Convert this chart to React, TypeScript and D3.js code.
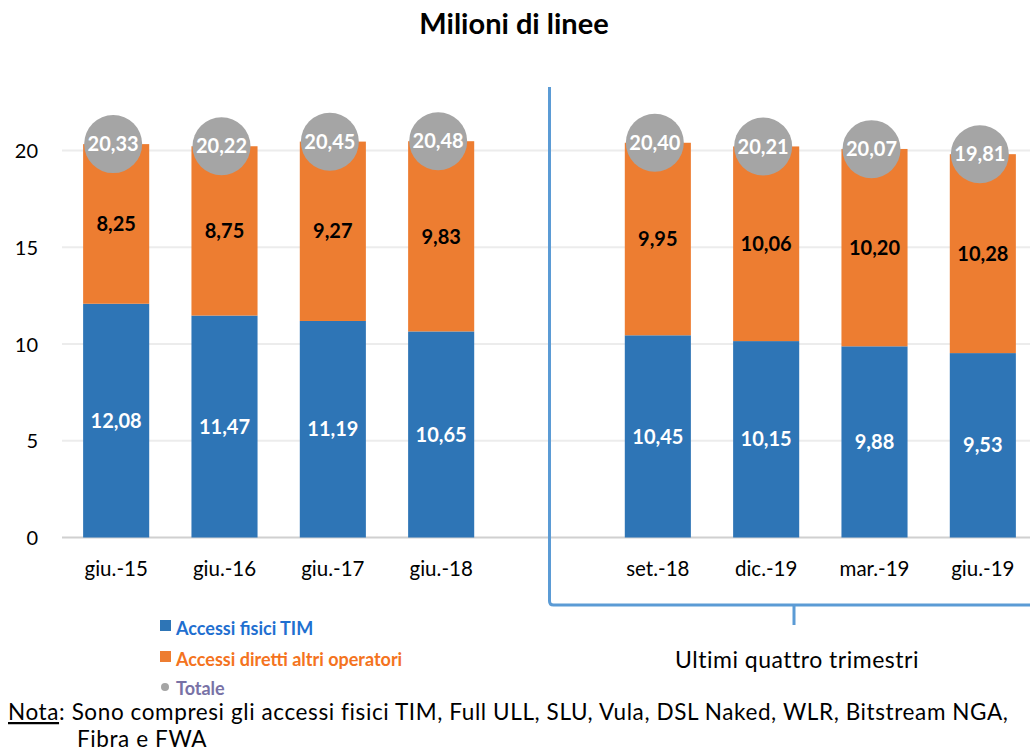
import React, { useRef, useEffect } from "react";
import * as d3 from "d3";

const categories = ["giu.-15", "giu.-16", "giu.-17", "giu.-18", "set.-18", "dic.-19", "mar.-19", "giu.-19"];
const timValues = [12.08, 11.47, 11.19, 10.65, 10.45, 10.15, 9.88, 9.53];
const altriValues = [8.25, 8.75, 9.27, 9.83, 9.95, 10.06, 10.2, 10.28];
const totalValues = [20.33, 20.22, 20.45, 20.48, 20.4, 20.21, 20.07, 19.81];
const yTicks = [0, 5, 10, 15, 20];

const FONT = "Lato, 'Open Sans', sans-serif";
const BLUE = "#2e75b6";
const ORANGE = "#ed7d31";
const GREY = "#a5a5a5";

const fmt = (v: number) => v.toFixed(2).replace(".", ",");

const App = () => {
  const svgRef = useRef<SVGSVGElement>(null);

  useEffect(() => {
    const width = 1030;
    const height = 752;
    const svg = d3.select(svgRef.current).attr("width", width).attr("height", height);
    svg.selectAll("*").remove();

    // empty slot between the yearly bars and the quarterly ones
    const slots = [...categories.slice(0, 4), "__gap", ...categories.slice(4)];
    const x = d3.scaleBand().domain(slots).range([62, 1037]).paddingInner(0.39).paddingOuter(0.195);
    const y = d3.scaleLinear().domain([0, 20]).range([537.5, 150.5]);

    svg.append("text")
      .attr("x", 514).attr("y", 34)
      .attr("text-anchor", "middle")
      .style("font-family", FONT).style("font-weight", "700").style("font-size", "29px")
      .text("Milioni di linee");

    // grid
    svg.append("g")
      .selectAll("line")
      .data(yTicks.filter((t) => t > 0))
      .enter()
      .append("line")
      .attr("x1", 62).attr("x2", width)
      .attr("y1", (d) => y(d)).attr("y2", (d) => y(d))
      .attr("stroke", "#ececec").attr("stroke-width", 2);

    svg.append("line")
      .attr("x1", 62).attr("x2", width)
      .attr("y1", y(0)).attr("y2", y(0))
      .attr("stroke", "#d0d0d0").attr("stroke-width", 2);

    const yAxis = d3.axisLeft(y).tickValues(yTicks).tickSize(0).tickPadding(0);
    const ya = svg.append("g").attr("transform", "translate(38,0)").call(yAxis);
    ya.select(".domain").remove();
    ya.selectAll("text")
      .attr("fill", "#000").attr("dy", "0.35em")
      .style("font-family", FONT).style("font-size", "20px");

    const xAxis = d3.axisBottom(x).tickSize(0).tickFormat((d) => (d === "__gap" ? "" : d));
    const xa = svg.append("g").attr("transform", `translate(0, ${y(0)})`).call(xAxis);
    xa.select(".domain").remove();
    xa.selectAll("text")
      .attr("fill", "#000").attr("y", 38).attr("dy", 0)
      .style("font-family", FONT).style("font-size", "20.5px");

    const rows = categories.map((c, i) => ({ c, tim: timValues[i], altri: altriValues[i], tot: totalValues[i] }));
    const stacked = d3.stack<any>().keys(["tim", "altri"])(rows);
    const colors = [BLUE, ORANGE];

    const groups = svg.selectAll(".bars")
      .data(stacked)
      .enter()
      .append("g")
      .attr("class", "bars")
      .style("fill", (d, i) => colors[i]);

    groups.selectAll("rect")
      .data((d) => d)
      .enter()
      .append("rect")
      .attr("x", (d: any) => x(d.data.c)!)
      .attr("y", (d) => y(d[1]))
      .attr("height", (d) => y(d[0]) - y(d[1]))
      .attr("width", x.bandwidth());

    groups.selectAll("text")
      .data((d) => d.map((p) => ({ p, key: d.key })))
      .enter()
      .append("text")
      .attr("x", (d: any) => x(d.p.data.c)! + x.bandwidth() / 2)
      .attr("y", (d) => (y(d.p[0]) + y(d.p[1])) / 2)
      .attr("dy", "0.36em")
      .attr("text-anchor", "middle")
      .attr("fill", (d) => (d.key === "tim" ? "#fff" : "#000"))
      .style("font-family", FONT).style("font-weight", "700").style("font-size", "20px")
      .text((d: any) => fmt(d.p.data[d.key]));

    const tot = svg.append("g").selectAll("g").data(rows).enter().append("g")
      .attr("transform", (d) => `translate(${x(d.c)! + x.bandwidth() / 2 - 3}, ${y(d.tot)})`);
    tot.append("circle").attr("r", 29).attr("fill", GREY);
    tot.append("text")
      .attr("text-anchor", "middle").attr("dy", "0.36em")
      .attr("fill", "#fff")
      .style("font-family", FONT).style("font-weight", "700").style("font-size", "20px")
      .text((d) => fmt(d.tot));

    // bracket for the last four quarters
    const bx = x("__gap")! + x.bandwidth() / 2;
    svg.append("path")
      .attr("d", `M${bx},87 V601 Q${bx},605 ${bx + 4},605 H${width + 5}`)
      .attr("fill", "none").attr("stroke", "#5b9bd5").attr("stroke-width", 3);
    svg.append("line")
      .attr("x1", 794).attr("x2", 794).attr("y1", 605).attr("y2", 625)
      .attr("stroke", "#5b9bd5").attr("stroke-width", 3);
    svg.append("text")
      .attr("x", 797).attr("y", 668)
      .attr("text-anchor", "middle")
      .style("font-family", FONT).style("font-size", "23px").style("letter-spacing", "0.5px")
      .text("Ultimi quattro trimestri");

    // legend
    const legend = [
      { label: "Accessi fisici TIM", color: BLUE, text: "#1f6fd0", y: 635, shape: "rect" },
      { label: "Accessi diretti altri operatori", color: ORANGE, text: "#f47320", y: 666, shape: "rect" },
      { label: "Totale", color: GREY, text: "#7872a6", y: 695, shape: "circle" },
    ];
    const lg = svg.append("g").selectAll("g").data(legend).enter().append("g");
    lg.filter((d) => d.shape === "rect").append("rect")
      .attr("x", 160).attr("y", (d) => d.y - 15).attr("width", 11).attr("height", 11)
      .attr("fill", (d) => d.color);
    lg.filter((d) => d.shape === "circle").append("circle")
      .attr("cx", 165).attr("cy", (d) => d.y - 8).attr("r", 4)
      .attr("fill", (d) => d.color);
    lg.append("text")
      .attr("x", 176).attr("y", (d) => d.y)
      .attr("fill", (d) => d.text)
      .style("font-family", FONT).style("font-weight", "700").style("font-size", "18px")
      .text((d) => d.label);

    // note
    const note = svg.append("text")
      .attr("x", 8).attr("y", 720)
      .style("font-family", FONT).style("font-size", "22.5px").style("letter-spacing", "0.6px");
    note.append("tspan").style("text-decoration", "underline").text("Nota");
    note.append("tspan").text(": Sono compresi gli accessi fisici TIM, Full ULL, SLU, Vula, DSL Naked, WLR, Bitstream NGA,");
    svg.append("text")
      .attr("x", 77).attr("y", 747)
      .style("font-family", FONT).style("font-size", "22.5px").style("letter-spacing", "0.6px")
      .text("Fibra e FWA");
  }, []);

  return (
    <div style={{ position: "absolute", left: 0, top: 0 }}>
      <svg ref={svgRef} style={{ display: "block" }}></svg>
    </div>
  );
};

export default App;
